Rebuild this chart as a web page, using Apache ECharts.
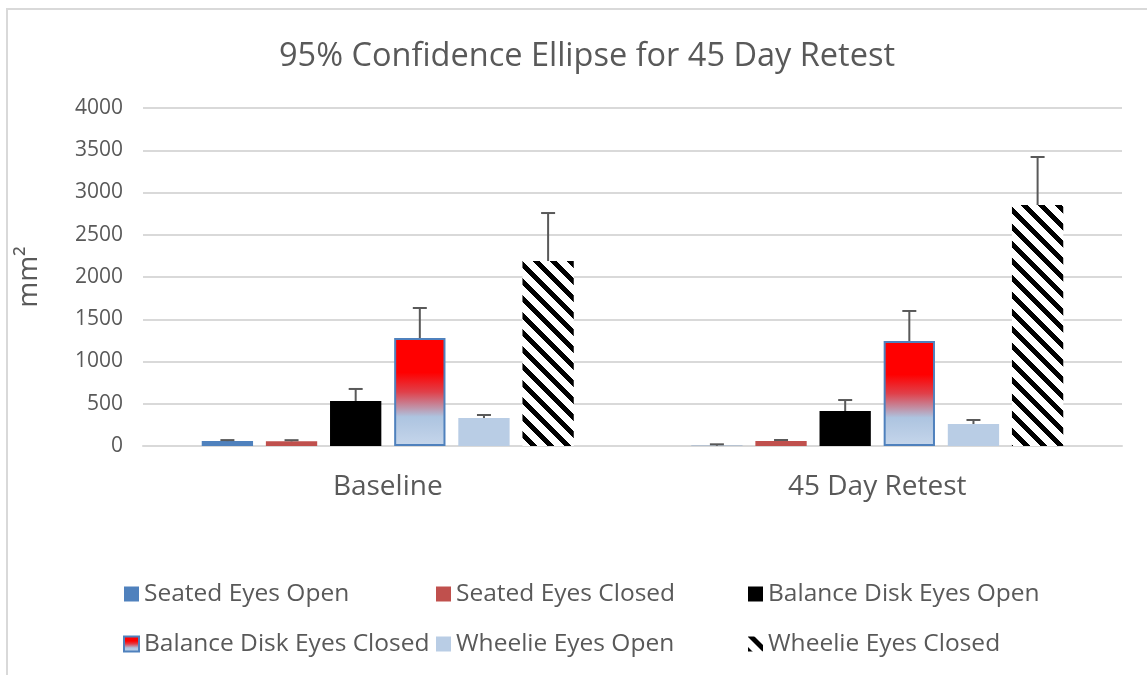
<!DOCTYPE html>
<html>
<head>
<meta charset="utf-8">
<script src="https://cdn.jsdelivr.net/npm/echarts@6/dist/echarts.min.js"></script>
<style>
  html, body { margin: 0; padding: 0; background: #fff; }
  #chart { width: 1147px; height: 675px; }
</style>
</head>
<body>
<div id="chart"></div>
<script>
const categories = ['Baseline', '45 Day Retest'];
const seriesNames = ['Seated Eyes Open', 'Seated Eyes Closed', 'Balance Disk Eyes Open',
  'Balance Disk Eyes Closed', 'Wheelie Eyes Open', 'Wheelie Eyes Closed'];

// mean values per group (Baseline, 45 Day Retest)
const seatedOpen = [58, 3];
const seatedClosed = [55, 59];
const diskOpen = [533, 414];
const diskClosed = [1278, 1243];
const wheelieOpen = [331, 260];
const wheelieClosed = [2189, 2852];

// plus-side error lengths
const seatedOpenErr = [12, 17];
const seatedClosedErr = [14, 12];
const diskOpenErr = [142, 130];
const diskClosedErr = [355, 355];
const wheelieOpenErr = [36, 48];
const wheelieClosedErr = [568, 568];

const yTicks = [0, 500, 1000, 1500, 2000, 2500, 3000, 3500, 4000];

const values = [seatedOpen, seatedClosed, diskOpen, diskClosed, wheelieOpen, wheelieClosed];
const errors = [seatedOpenErr, seatedClosedErr, diskOpenErr, diskClosedErr, wheelieOpenErr, wheelieClosedErr];

const FONT = 'Open Sans';
const GREY = '#595959';

// diagonal hatch tile for the Wheelie Eyes Closed bars
function hatch() {
  const size = 17;
  const c = document.createElement('canvas');
  c.width = size; c.height = size;
  const ctx = c.getContext('2d');
  ctx.fillStyle = '#fff';
  ctx.fillRect(0, 0, size, size);
  ctx.fillStyle = '#000';
  for (let x = 0; x < size; x++) {
    for (let y = 0; y < size; y++) {
      if (((x - y) % size + size) % size < 7) ctx.fillRect(x, y, 1, 1);
    }
  }
  return c;
}

const diskGradient = new echarts.graphic.LinearGradient(0, 0, 0, 1, [
  { offset: 0, color: '#ff0000' },
  { offset: 0.32, color: '#ff0000' },
  { offset: 0.5, color: '#e0404a' },
  { offset: 0.73, color: '#adc4e0' },
  { offset: 1, color: '#c6d6eb' }
]);

const styles = [
  { color: '#4f81bd' },
  { color: '#c0504d' },
  { color: '#000000' },
  { color: diskGradient, borderColor: '#4f81bd', borderWidth: 2 },
  { color: '#b9cde5' },
  { color: { image: hatch(), repeat: 'repeat' } }
];

const barSeries = seriesNames.map((name, i) => ({
  name: name,
  type: 'bar',
  barGap: '25%',
  barCategoryGap: '24%',
  itemStyle: styles[i],
  emphasis: { disabled: true },
  data: values[i]
}));

const errData = [];
values.forEach((arr, s) => {
  arr.forEach((v, c) => errData.push([c, v, errors[s][c], s]));
});

const errSeries = {
  type: 'custom',
  silent: true,
  z: 5,
  renderItem: function (params, api) {
    const c = api.value(0), v = api.value(1), e = api.value(2), s = api.value(3);
    const band = api.size([1, 0])[0];
    const barW = band * 0.76 / 7.25;
    const center = api.coord([c, 0])[0];
    const x = center - band * 0.76 / 2 + barW / 2 + s * barW * 1.25;
    const y0 = api.coord([c, v])[1];
    const y1 = api.coord([c, v + e])[1];
    const style = { stroke: GREY, lineWidth: 2 };
    return {
      type: 'group',
      children: [
        { type: 'line', shape: { x1: x, y1: y0, x2: x, y2: y1 }, style: style },
        { type: 'line', shape: { x1: x - 7, y1: y1, x2: x + 7, y2: y1 }, style: style }
      ]
    };
  },
  encode: { x: 0, y: 1 },
  data: errData
};

const legendBase = {
  orient: 'vertical',
  icon: 'rect',
  itemWidth: 15,
  itemHeight: 15,
  itemGap: 24,
  selectedMode: false,
  textStyle: { fontFamily: FONT, fontSize: 24.5, color: GREY, lineHeight: 26 }
};

const chart = echarts.init(document.getElementById('chart'));
chart.setOption({
  animation: false,
  backgroundColor: '#fff',
  title: {
    text: '95% Confidence Ellipse for 45 Day Retest',
    left: 274,
    top: 35,
    textStyle: { fontFamily: FONT, fontSize: 32.5, fontWeight: 'normal', color: GREY }
  },
  graphic: [{
    type: 'rect',
    shape: { x: 7, y: 9, width: 1300, height: 800 },
    style: { fill: 'none', stroke: '#d9d9d9', lineWidth: 2 },
    silent: true
  }],
  legend: [
    Object.assign({ left: 118, top: 576, data: [seriesNames[0], seriesNames[3]] }, legendBase),
    Object.assign({ left: 431, top: 576, data: [seriesNames[1], seriesNames[4]] }, legendBase),
    Object.assign({ left: 743, top: 576, data: [seriesNames[2], seriesNames[5]] }, legendBase)
  ],
  grid: { left: 143, right: 25, top: 108, bottom: 229, containLabel: false },
  xAxis: {
    type: 'category',
    data: categories,
    axisLine: { lineStyle: { color: '#d9d9d9', width: 2 } },
    axisTick: { show: false },
    axisLabel: { fontFamily: FONT, fontSize: 28, color: GREY, margin: 27 }
  },
  yAxis: {
    type: 'value',
    min: yTicks[0],
    max: yTicks[yTicks.length - 1],
    interval: 500,
    name: 'mm²',
    nameLocation: 'middle',
    nameGap: 100,
    nameTextStyle: { fontFamily: FONT, fontSize: 28, color: GREY },
    axisLine: { show: false },
    axisTick: { show: false },
    axisLabel: { fontFamily: FONT, fontSize: 21, color: GREY, margin: 20, formatter: (v) => String(v) },
    splitLine: { lineStyle: { color: '#d9d9d9', width: 2 } }
  },
  series: barSeries.concat([errSeries])
});
</script>
</body>
</html>
